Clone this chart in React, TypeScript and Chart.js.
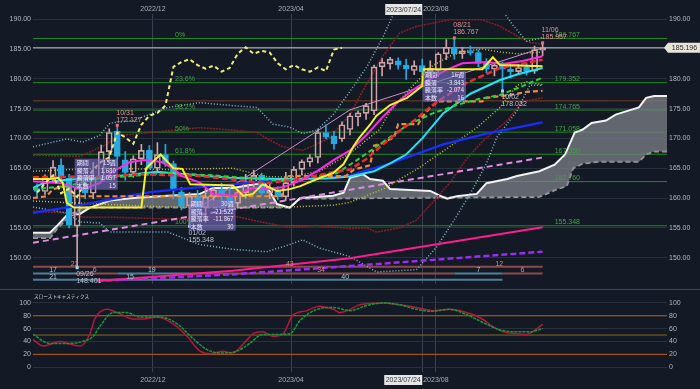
import React, { useEffect, useRef } from 'react';
import { Chart, registerables } from 'chart.js';

Chart.register(...registerables);

const FONT = '"Liberation Sans", "Noto Sans CJK JP", sans-serif';
const JP = '"Noto Sans CJK JP", "Liberation Sans", sans-serif';
const BG = '#131a26';

// ---- weekly candles, week 0 = 2022-08-22 ... week 63 = 2023-11-06 ----
const opens = [161.6,161.1,163.4,165.5,163.3,155.3,161.7,160.8,163.4,167.8,
  171.2,166.4,164.3,166.6,168.0,165.0,167.3,165.8,161.0,158.7,
  160.3,158.4,160.2,161.4,160.2,159.1,160.9,162.6,163.8,160.8,
  161.2,160.2,162.6,164.8,166.0,166.8,171.0,170.4,169.9,171.5,
  173.6,174.2,174.6,182.0,182.5,183.0,182.3,181.4,182.2,181.2,
  181.4,184.2,185.1,184.2,184.7,184.4,182.6,181.6,182.3,181.6,
  181.2,182.0,181.3,184.8];
const highs = [162.4,163.9,166.3,166.6,164.0,163.0,163.5,166.0,168.9,171.6,
  172.127,167.8,167.1,169.0,168.8,169.3,169.0,166.2,161.8,160.9,
  161.3,161.6,162.0,162.5,161.6,161.3,164.0,164.7,164.2,162.7,
  161.9,164.3,165.3,166.4,167.3,171.5,172.3,171.2,172.8,174.2,
  174.6,175.9,182.3,183.4,183.6,183.5,183.3,183.0,183.3,183.0,
  184.4,186.6,186.767,185.3,185.5,184.8,183.4,182.6,182.8,182.4,
  182.4,182.6,185.5,185.957];
const lows = [160.2,160.6,162.9,162.8,155.0,148.401,159.9,159.9,162.7,166.0,
  165.3,163.0,163.5,165.6,164.9,164.6,165.3,159.8,158.0,155.348,
  156.9,156.6,159.6,158.2,157.7,158.4,160.0,161.8,160.6,159.9,
  159.7,159.6,162.0,163.9,165.3,165.9,169.9,168.2,169.5,170.6,
  172.1,173.2,174.0,180.5,181.6,181.6,179.9,180.7,179.2,180.3,
  180.4,183.2,183.3,183.4,184.0,182.0,181.0,180.5,178.032,180.1,
  180.8,180.6,180.9,183.9];
const closes = [161.1,163.5,165.2,163.4,155.5,161.7,160.9,163.4,167.8,171.0,
  167.0,164.3,166.6,168.0,165.0,167.3,165.8,161.5,158.7,160.3,
  158.4,160.2,161.4,160.2,159.1,160.9,162.5,163.8,160.8,161.6,
  160.2,162.6,164.8,166.1,166.8,171.0,170.2,169.1,172.3,173.8,
  174.3,175.5,182.0,182.8,183.3,182.3,181.7,182.2,181.2,181.8,
  184.2,185.3,184.2,184.7,184.4,182.6,181.6,182.3,181.6,181.2,
  181.9,181.3,184.9,185.196];

// lagging span (weeks 0..38)
const chikou = [160.9,162.5,163.8,160.8,161.6,160.2,162.6,164.8,166.1,166.8,
  171.0,170.2,169.1,172.3,173.8,174.3,175.5,182.0,182.8,183.3,
  182.3,181.7,182.2,181.2,181.8,184.2,185.3,184.2,184.7,184.4,
  182.6,181.6,182.3,181.6,181.2,181.9,181.3,184.9,185.196];

// ---- indicator lines: [week, value] ----
const tenkan: [number, number][] = [[-0.5,163.2],[1.6,163.2],[2.6,163.4],[3.2,162.6],[3.7,159.2],[4.6,158.4],[13.0,158.4],[13.6,165.0],[15.4,167.3],[17.0,165.0],[18.1,164.9],[19.1,162.3],[24.4,162.1],[25.7,160.4],[26.9,160.7],[28.1,162.3],[29.9,161.2],[31.5,161.5],[32.8,162.0],[34.9,163.2],[36.9,164.2],[38.2,165.7],[39.4,168.6],[40.2,170.2],[41.5,172.3],[42.3,173.8],[44,175.6],[46.1,176.8],[48,178.8],[48.2,181.6],[55.5,181.6],[56.8,183.6],[57.7,182.3],[61,182.2],[63,182.1]];
const kijun: [number, number][] = [[-0.5,160.0],[1.2,160.3],[2.0,161.5],[3.6,162.0],[4.6,160.3],[30.5,160.3],[31,163.7],[38.5,163.7],[39.5,164.8],[41.5,165.5],[42,168.8],[43,169.2],[44.5,170.2],[45,172.4],[47.5,172.4],[48,173.6],[49,175.2],[50,176.2],[55.5,176.2],[56,176.8],[59,177.3],[61,177.8],[63,178.0]];
const maMagenta: [number, number][] = [[-0.5,162.8],[3,162.5],[5.5,161.5],[7.8,162.5],[9.5,164.5],[11.5,166],[13.2,166.4],[15.4,166.1],[17,165],[18,163.7],[20.3,162.6],[21.9,160.7],[24.4,160.4],[26.9,161.7],[28.6,161.5],[30.6,161.8],[33,163],[35,164.6],[37,166.4],[39,168],[41,170.5],[43,173.5],[45,176.2],[47,178.3],[49,180],[51,181.5],[53,182.6],[56,182.8],[58,182.5],[60.5,183],[63,183.8]];
const maCyan: [number, number][] = [[-0.5,161.7],[0.8,162.5],[3,163],[9.5,163.6],[15,164.4],[18.5,164],[24,163.4],[30,163.2],[36,163.3],[39,163.6],[42,164.5],[44,165.8],[46,167.3],[48,170],[50.6,174.2],[54,177.5],[57.7,179.8],[60,180.8],[63,181.8]];
const maBlue: [number, number][] = [[-0.5,157.5],[4.5,158.6],[10,160],[14.1,161],[20,161.8],[26,162.5],[30,163],[35,163.3],[39,163.8],[44,165.8],[50.6,169],[56,170.8],[63,172.7]];
const emaRed: [number, number][] = [[-0.5,163.5],[7.8,163.6],[13,164],[20.3,163.7],[28.6,162.5],[32.8,163.2],[36.4,164.2],[39,164.8],[41,166.5],[43.1,169],[45.2,171.3],[47,173],[49.3,175.6],[51.4,177.5],[53.5,179.3],[55.5,180.5],[57.7,181.8],[60,182.4],[63,183.2]];
const emaGreen: [number, number][] = [[-0.5,161.5],[3.7,162],[7.8,163.3],[16.3,164.2],[22,163.8],[30.6,162.9],[34,163.4],[37.4,164.2],[39.9,166.4],[42.7,169],[46.1,172.2],[49.3,174.2],[52.3,175.6],[55,176.6],[57.7,177.3],[60,178.5],[63,180.2]];
const senkouA: [number, number][] = [[-0.5,154.2],[1.6,154.2],[2.6,155.5],[3.7,157.1],[5.3,157.3],[6.6,158.4],[9.1,159.6],[12,160],[16.3,160.4],[20.3,160.7],[21.9,161.7],[24.4,161.7],[27.8,162.5],[28.5,162.3],[29.9,159],[31.5,158.4],[32.8,160],[36.9,160.4],[38.2,160.9],[39,163.4],[40.6,164],[41.5,163.2],[43.1,162.9],[44,161.5],[49,161.2],[50.2,160.4],[51.1,159.9],[52.3,160.3],[54.8,160.7],[56,162.5],[58.6,163.2],[59.8,163.7],[62.6,164.5],[64.5,165.6],[65.8,167.3],[67,171],[68,171.5],[69.1,172.6],[70.9,173],[72.1,174],[73.8,174.7],[75,175.2],[75.9,176.8],[76.9,177.1],[78.5,177.1]];
const senkouB: [number, number][] = [[-0.5,153.3],[1.6,153.3],[2.6,155],[4.5,157.5],[5.7,158.4],[31.5,158.4],[32.8,159.9],[62.6,160.2],[64.8,161.5],[66,162],[66.8,165],[68,165.8],[70.1,166.1],[75,166.1],[75.9,167.3],[76.9,167.8],[78.5,167.8]];
const bbBlueUp: [number, number][] = [[-0.5,168.6],[3.7,169.9],[5.7,169.4],[7.8,170.5],[9.1,172.6],[12,173],[16.3,175.2],[20.3,176],[24.4,175.5],[27.4,175.2],[29.4,172.4],[31.5,171.9],[33.1,170.8],[34.9,171.4],[36.9,174],[39,177.9],[41.1,182],[43.1,187],[44.8,192],[46,195],[56,195],[57.7,192],[59.3,189],[61,186.3],[63,186.9]];
const bbBlueLow: [number, number][] = [[-0.5,158.5],[3.7,157.5],[5.4,156],[7.8,155.8],[9.1,154.3],[16.3,154.3],[20.3,152.2],[24.4,151.4],[28.6,151],[31.5,152.2],[33.1,153],[35.2,151.6],[39,150.2],[42.3,147.6],[47.3,148],[49.8,151.8],[52.3,157],[54.3,161.5],[56,165.8],[57.3,170.2],[59.8,174.6],[61.4,178.9],[63,178.9]];
const bbYellowUp: [number, number][] = [[-0.5,164.5],[7.8,165],[16.3,164.8],[24.4,165],[28.6,163.6],[31.5,163.5],[35.2,164.5],[39,167.5],[42.7,171.5],[44,174.6],[46.5,178.4],[49.3,182.2],[51.4,183.8],[53.5,184.7],[55.5,185],[57.7,184.5],[59.8,184.2],[63,184.5]];
const bbYellowLow: [number, number][] = [[-0.5,159.5],[7.8,159],[16.3,158.5],[24.4,158.4],[31.5,158.5],[36.9,158.8],[39,159.3],[43.1,161.5],[47.3,164.8],[51.4,168.6],[54.8,171.8],[57.7,175.2],[59.8,178.9],[61,179.5],[63,179]];
const bbRedUp: [number, number][] = [[-0.5,167.2],[5.4,167],[8.7,169],[10,170.5],[14.1,171],[20.3,171.8],[24.4,171.4],[27.4,171],[29,169.7],[30.6,168.6],[33.1,168],[36.4,170],[39,174],[41,179],[43.1,183.8],[45.2,187.7],[47.3,188.8],[51.4,189.9],[55.5,189.9],[57.7,188.8],[59.8,187.2],[61.4,186.1],[63,185.8]];
const bbRedLow: [number, number][] = [[-0.5,157.8],[3.7,157.5],[5.7,156.8],[9.1,156.8],[16.3,156.5],[20.3,156.7],[24.4,157],[28.6,155.8],[31.5,155.1],[34.9,155.4],[39,154.9],[41.1,155],[42.3,154.3],[45.2,155],[47.3,156.3],[49.3,159.3],[51.4,162.5],[53.5,166.5],[55.5,169.5],[58.6,173],[60.5,176.2],[63,176.8]];
const trendPinkDash: [number, number][] = [[-0.5,152.5],[63,166.8]];
const trendHotPink: [number, number][] = [[7.5,146.1],[24.4,147.8],[39,149.9],[51,152.5],[63,155.1]];
const trendPurple: [number, number][] = [[7.5,146.1],[24.4,147.2],[39,148.6],[63,151]];
const trendThin: [number, number][] = [[19.5,157.8],[39,174.8],[63,185.2]];

// ---- levels ----
const fibValues = [186.767, 179.352, 174.765, 171.058, 167.350, 162.760, 155.348];
const fibPercents = ['0%', '23.6%', '38.2%', '50%', '61.8%', '', '100%'];
const brownLevel = 176.3;
const currentPrice = 185.196;

// ---- swing labels ----
const highWeeks = [10, 52, 63];
const highValues = [172.127, 186.767, 185.957];
const highDates = ['10/31', '08/21', '11/06'];
const lowWeeks = [5, 19, 58];
const lowValues = [148.401, 155.348, 178.032];
const lowDates = ['09/26', '01/02', '10/02'];

// ---- period info boxes ----
const infoWeeks = [4.7, 18.9, 48.1];
const infoTops = [166.6, 159.74, 181.36];
const infoHeads = ['期間', '騰落', '騰落率', '本数'];
const infoValues = [
  ['15週', '1.680', '1.057', '15'],
  ['30週', '-21.522', '-11.867', '30'],
  ['16週', '-3.843', '-2.074', '16'],
];

// ---- wave count rows ----
const countRowValues = [148.46, 147.36, 146.28];
const countSegs: [number, number, number, string][] = [
  [0, -0.5, 63, 'r'],
  [1, -0.5, 5, 'b'], [1, 5, 10, 'r'], [1, 10, 19, 'b'], [1, 19, 52, 'r'], [1, 52, 58, 'b'], [1, 58, 63, 'r'],
  [2, -0.5, 5, 'b'], [2, 5, 19, 'b'], [2, 19, 58, 'b'],
];
const countLabels: [number, number, string, string][] = [
  [0, 4.7, '22', 'r'], [0, 31.5, '43', 'r'], [0, 57.6, '12', 'r'],
  [1, 2, '17', 'b'], [1, 7.2, '6', 'r'], [1, 14.3, '19', 'b'], [1, 35.4, '34', 'r'], [1, 55, '7', 'b'], [1, 60.5, '6', 'r'],
  [2, 2, '21', 'b'], [2, 11.6, '15', 'b'], [2, 38.4, '40', 'b'],
];

// ---- time axis ----
const monthWeeks = [14.45, 31.65, 49.7];
const monthLabels = ['2022/12', '2023/04', '2023/08'];
const crossWeek = 48;
const crossLabel = '2023/07/24';

// ---- slow stochastics ----
const stochK: [number, number][] = [[-0.5,43],[0.75,33],[2.9,40],[4.1,36],[5.4,33],[6.6,52],[7.2,75],[8.7,90],[10,85],[12,75],[13.2,75],[15,78],[17,67],[18.7,48],[20.3,25],[21.5,21],[23.2,25],[24.4,22],[25.7,36],[26.9,52],[28.1,55],[29.4,48],[30.6,51],[31.9,81],[33.6,88],[35.2,95],[36.9,90],[37.8,85],[39,90],[40.2,97],[43.1,100],[45.2,97],[47.3,93],[49.3,88],[51.4,90],[53.5,85],[55.5,75],[56.8,63],[58.1,55],[59.8,52],[61,51],[62.3,60],[63,67]];
const stochD: [number, number][] = [[-0.5,51],[1.6,37],[3.7,37],[5.7,40],[7,48],[7.8,63],[9.5,85],[11.2,85],[12.8,78],[15.4,78],[17.5,67],[19.4,45],[21.1,28],[22.8,22],[24.9,25],[26.5,37],[28.1,51],[29.9,51],[31.5,52],[32.8,73],[34.9,90],[36.9,93],[39,88],[41.1,96],[43.1,100],[45.2,97],[47.3,90],[49.3,87],[51.4,90],[53.5,82],[55.5,70],[57.7,58],[59.8,55],[61.4,55],[63,60]];
const stochLevels = [80, 50, 20];
const stochTicks = [0, 20, 40, 60, 80, 100];
const priceTicks = [150, 155, 160, 165, 170, 175, 180, 185, 190];

// ---- scale ranges ----
const X_MIN = -0.5, X_MAX = 78.5;
const P_MIN = 145.62, P_MAX = 190.87;
const S_MIN = -7.46, S_MAX = 110.45;

const UP = '#cfa3a8';
const DOWN = '#27a8e0';

const pts = (a: [number, number][]) => a.map(([x, y]) => ({ x, y }));
const hline = (v: number): [number, number][] => [[X_MIN, v], [X_MAX, v]];
const line = (data: [number, number][], color: string, width: number, order: number, dash: number[] = [], extra: any = {}) => ({
  type: 'line', data: pts(data), borderColor: color, borderWidth: width, borderDash: dash,
  pointRadius: 0, tension: 0, fill: false, order, ...extra,
});

const xAxis = (position: string, height: number, pad: number) => ({
  type: 'linear', position, min: X_MIN, max: X_MAX, offset: false,
  afterBuildTicks: (s: any) => { s.ticks = [...monthWeeks, crossWeek].map((v) => ({ value: v })); },
  afterFit: (s: any) => { s.height = height; },
  grid: { color: '#3a424f', drawTicks: false, offset: false },
  border: { display: false },
  ticks: {
    autoSkip: false, maxRotation: 0, padding: pad, color: '#a9b0b8', font: { size: 7, family: FONT },
    callback: (v: number) => { const i = monthWeeks.indexOf(v); return i >= 0 ? monthLabels[i] : ''; },
  },
});
const yAxis = (position: string, min: number, max: number, ticks: number[], fmt: (v: number) => string, grid: boolean) => ({
  type: 'linear', position, min, max,
  afterBuildTicks: (s: any) => { s.ticks = ticks.map((v) => ({ value: v })); },
  afterFit: (s: any) => { s.width = 33; },
  grid: { display: grid, color: '#27303c', drawTicks: false },
  border: { display: false },
  ticks: { padding: 2, color: '#b4bac2', font: { size: 7, family: FONT }, callback: (v: number) => fmt(Number(v)) },
});

const topPlugin = {
  id: 'topAnnot',
  afterDatasetsDraw(chart: any) {
    const { ctx } = chart;
    const X = (w: number) => chart.scales.x.getPixelForValue(w);
    const Y = (v: number) => chart.scales.y.getPixelForValue(v);
    ctx.save();
    ctx.font = `7px ${FONT}`;
    ctx.textAlign = 'left';
    ctx.textBaseline = 'alphabetic';
    ctx.fillStyle = '#3fa63f';
    fibValues.forEach((v, i) => {
      const py = Y(v) - 1.5;
      if (fibPercents[i]) ctx.fillText(fibPercents[i], X(17.2), py);
      ctx.fillText(v.toFixed(3), X(64.5), py);
    });
    // count labels
    ctx.textAlign = 'center';
    countLabels.forEach(([row, w, t, k]) => {
      ctx.fillStyle = k === 'r' ? '#d48a86' : '#a8c6da';
      ctx.fillText(t, X(w), Y(countRowValues[row]) - 1);
    });
    // swing highs / lows
    ctx.textAlign = 'left';
    ctx.textBaseline = 'middle';
    highWeeks.forEach((w, i) => {
      const px = X(w), py = Y(highValues[i]);
      ctx.fillStyle = '#e8707e';
      ctx.fillRect(px - 1.5, py - 2, 3, 3);
      ctx.fillStyle = '#db9494';
      ctx.fillText(highDates[i], px - 1, py - 13);
      ctx.fillText(highValues[i].toFixed(3), px - 1, py - 6);
    });
    lowWeeks.forEach((w, i) => {
      const px = X(w), py = Y(lowValues[i]);
      ctx.fillStyle = '#a6d8f4';
      ctx.fillRect(px - 1.5, py - 1, 3, 3);
      ctx.fillStyle = '#b8c0d6';
      ctx.fillText(lowDates[i], px - 1, py + 7);
      ctx.fillText(lowValues[i].toFixed(3), px - 1, py + 14);
    });
    // info boxes
    const widths = [43, 47, 43];
    infoWeeks.forEach((w, i) => {
      const bx = X(w), by = Y(infoTops[i]);
      ctx.fillStyle = 'rgba(126,110,196,0.62)';
      ctx.fillRect(bx, by, widths[i], 31);
      ctx.fillStyle = '#ecebff';
      ctx.font = `6px ${JP}`;
      infoHeads.forEach((h, r) => {
        const ty = by + 4.5 + r * 7.4;
        ctx.textAlign = 'left';
        ctx.fillText(h, bx + 2, ty);
        ctx.textAlign = 'right';
        ctx.fillText(infoValues[i][r], bx + widths[i] - 2, ty);
      });
    });
    ctx.restore();
  },
  afterDraw(chart: any) {
    const { ctx, chartArea } = chart;
    const X = (w: number) => chart.scales.x.getPixelForValue(w);
    const Y = (v: number) => chart.scales.y.getPixelForValue(v);
    ctx.save();
    const py = Y(currentPrice);
    const r = chartArea.right;
    ctx.fillStyle = '#e8e4da';
    ctx.beginPath();
    ctx.moveTo(r - 3, py); ctx.lineTo(r + 1, py - 5); ctx.lineTo(700, py - 5);
    ctx.lineTo(700, py + 5); ctx.lineTo(r + 1, py + 5); ctx.closePath(); ctx.fill();
    ctx.fillStyle = '#2a2a2a';
    ctx.font = `7px ${FONT}`;
    ctx.textAlign = 'center'; ctx.textBaseline = 'middle';
    ctx.fillText(currentPrice.toFixed(3), (r + 700) / 2 + 1, py + 0.5);
    const cx = X(crossWeek);
    ctx.fillStyle = '#e6e6e6';
    ctx.fillRect(cx - 37, 4, 37, 11);
    ctx.fillStyle = '#333';
    ctx.fillText(crossLabel, cx - 18.5, 9.8);
    ctx.restore();
  },
};

const bottomPlugin = {
  id: 'bottomAnnot',
  afterDraw(chart: any) {
    const { ctx, chartArea } = chart;
    const cx = chart.scales.x.getPixelForValue(crossWeek);
    ctx.save();
    ctx.fillStyle = '#d8d8d8';
    ctx.font = `4.6px ${JP}`;
    ctx.textAlign = 'left'; ctx.textBaseline = 'middle';
    ctx.fillText('スローストキャスティクス', chartArea.left + 1, 6);
    ctx.fillStyle = '#e6e6e6';
    ctx.fillRect(cx - 38, 85, 38, 10);
    ctx.fillStyle = '#333';
    ctx.font = `7px ${FONT}`;
    ctx.textAlign = 'center';
    ctx.fillText(crossLabel, cx - 19, 90.3);
    ctx.restore();
  },
};

export default function App() {
  const topRef = useRef<HTMLCanvasElement>(null);
  const botRef = useRef<HTMLCanvasElement>(null);

  useEffect(() => {
    const weeks = opens.map((_, i) => i);
    const isUp = weeks.map((i) => closes[i] >= opens[i]);
    const wickData: any[] = [];
    const wickColors: string[] = [];
    weeks.forEach((i) => {
      const c = isUp[i] ? UP : DOWN;
      wickData.push({ x: i, y: [lows[i], Math.min(opens[i], closes[i])] });
      wickData.push({ x: i, y: [Math.max(opens[i], closes[i]), highs[i]] });
      wickColors.push(c, c);
    });
    const bodyData = weeks.map((i) => ({ x: i, y: [opens[i], closes[i]] }));

    const levelSets: any[] = [
      ...fibValues.map((v) => line(hline(v), '#228c22', 1, 95)),
      line(hline(brownLevel), '#7a3e1e', 1, 95),
      line(hline(currentPrice), '#c9c9c9', 1, 94),
    ];
    const countSets = countSegs.map(([row, a, b, k]) =>
      line([[a, countRowValues[row]], [b, countRowValues[row]]], k === 'r' ? '#8e4a49' : '#4f7e98', 2, 85));

    const topDatasets: any[] = [
      ...levelSets,
      ...countSets,
      line(senkouA, '#f2f2f2', 2, 90, [], { fill: '+1', backgroundColor: 'rgba(128,132,140,0.72)' }),
      line(senkouB, '#9a9a9a', 2, 91, [5, 3]),
      line(bbBlueUp, '#86bccc', 1.5, 70, [1, 2]),
      line(bbBlueLow, '#86bccc', 1.5, 70, [1, 2]),
      line(bbYellowUp, '#c6c22a', 1.5, 70, [1, 2]),
      line(bbYellowLow, '#c6c22a', 1.5, 70, [1, 2]),
      line(bbRedUp, '#8c1f26', 1.5, 70, [2, 1]),
      line(bbRedLow, '#8c1f26', 1.5, 70, [2, 1]),
      line(trendPinkDash, '#e08ce0', 2, 60, [6, 4]),
      line(trendHotPink, '#ff1c8e', 2, 60),
      line(trendPurple, '#9b2cf2', 2.5, 60, [6, 3]),
      line(trendThin, '#cf8ccf', 1, 60),
      {
        type: 'bar', data: wickData, backgroundColor: wickColors, borderWidth: 0,
        barThickness: 1, grouped: false, order: 52,
      },
      {
        type: 'bar', data: bodyData,
        backgroundColor: weeks.map((i) => (isUp[i] ? 'rgba(0,0,0,0)' : DOWN)),
        borderColor: weeks.map((i) => (isUp[i] ? UP : DOWN)),
        borderWidth: 1, borderSkipped: false, barThickness: 6, minBarLength: 1, grouped: false, order: 51,
      },
      line(maBlue, '#1a2cff', 2.2, 20),
      line(maCyan, '#22e4f2', 2, 19),
      line(kijun, '#f08a3a', 2.2, 18, [5, 3]),
      line(emaGreen, '#20d83a', 2, 17, [5, 3]),
      line(emaRed, '#f02a2a', 2.5, 16, [6, 3]),
      line(maMagenta, '#ff2ae6', 2, 15),
      line(tenkan, '#f5f21e', 2, 14),
      line(chikou.map((v, i) => [i, v] as [number, number]), '#f0ea7a', 2, 13, [4, 3]),
    ];

    const c1 = new Chart(topRef.current as HTMLCanvasElement, {
      type: 'line',
      data: { datasets: topDatasets },
      options: {
        responsive: false, animation: false, devicePixelRatio: 1, events: [],
        layout: { padding: 0 },
        plugins: { legend: { display: false }, tooltip: { enabled: false } },
        scales: {
          x: xAxis('top', 14, 1),
          y: yAxis('left', P_MIN, P_MAX, priceTicks, (v) => v.toFixed(2), true),
          y2: yAxis('right', P_MIN, P_MAX, priceTicks, (v) => v.toFixed(2), false),
        },
      } as any,
      plugins: [topPlugin],
    } as any);

    const c2 = new Chart(botRef.current as HTMLCanvasElement, {
      type: 'line',
      data: {
        datasets: [
          ...stochLevels.map((v, i) => line(hline(v), i === 1 ? '#8d6914' : '#b5600f', 1, 50)),
          line(stochK, '#b8163a', 1.5, 11, [], { cubicInterpolationMode: 'monotone' }),
          line(stochD, '#169c36', 1.5, 10, [3, 1], { cubicInterpolationMode: 'monotone' }),
        ],
      },
      options: {
        responsive: false, animation: false, devicePixelRatio: 1, events: [],
        layout: { padding: { top: 3 } },
        plugins: { legend: { display: false }, tooltip: { enabled: false } },
        scales: {
          x: xAxis('bottom', 17, 4),
          y: yAxis('left', S_MIN, S_MAX, stochTicks, (v) => String(v), true),
          y2: yAxis('right', S_MIN, S_MAX, stochTicks, (v) => String(v), false),
        },
      } as any,
      plugins: [bottomPlugin],
    } as any);

    return () => { c1.destroy(); c2.destroy(); };
  }, []);

  return (
    <div style={{ position: 'fixed', left: 0, top: 0, width: 700, height: 389, background: BG, overflow: 'hidden' }}>
      <canvas ref={topRef} width={700} height={290} style={{ position: 'absolute', left: 0, top: 0 }} />
      <div style={{ position: 'absolute', left: 0, top: 289, width: 700, height: 1, background: '#3d4756' }} />
      <canvas ref={botRef} width={700} height={99} style={{ position: 'absolute', left: 0, top: 290 }} />
    </div>
  );
}
